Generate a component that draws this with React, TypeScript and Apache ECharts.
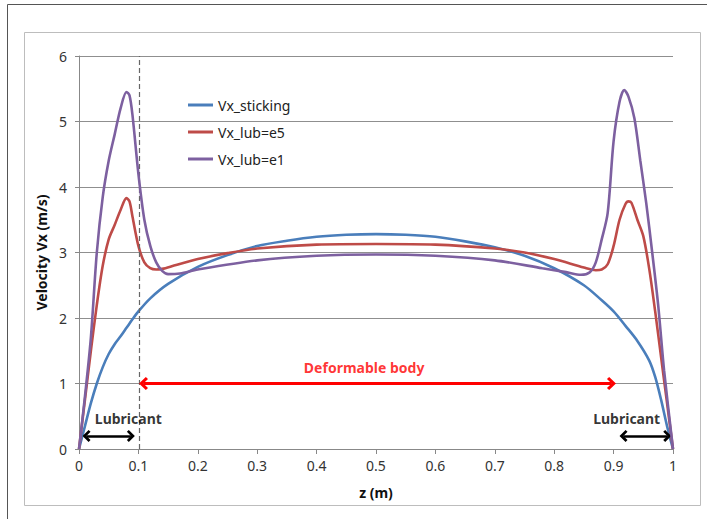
import React, { useEffect, useRef } from "react";
import * as echarts from "echarts";

const zSticking = [0, 0.01, 0.02, 0.03, 0.04, 0.05, 0.06, 0.07, 0.08, 0.09, 0.1, 0.12, 0.15, 0.2, 0.25, 0.3, 0.35, 0.4, 0.45, 0.5, 0.55, 0.6, 0.65, 0.7, 0.75, 0.8, 0.85, 0.88, 0.9, 0.92, 0.94, 0.96, 0.97, 0.98, 0.99, 1];
const vSticking = [0, 0.35, 0.7, 1.0, 1.25, 1.45, 1.6, 1.72, 1.85, 1.98, 2.1, 2.3, 2.52, 2.78, 2.96, 3.1, 3.18, 3.24, 3.27, 3.28, 3.27, 3.24, 3.17, 3.08, 2.95, 2.76, 2.5, 2.27, 2.1, 1.88, 1.65, 1.35, 1.1, 0.75, 0.35, 0];

const zLubE5 = [0, 0.01, 0.02, 0.03, 0.04, 0.05, 0.06, 0.07, 0.08, 0.085, 0.09, 0.1, 0.11, 0.12, 0.13, 0.14, 0.16, 0.2, 0.25, 0.3, 0.4, 0.5, 0.6, 0.7, 0.75, 0.8, 0.85, 0.87, 0.88, 0.89, 0.9, 0.91, 0.92, 0.925, 0.93, 0.94, 0.95, 0.96, 0.97, 0.98, 0.99, 1];
const vLubE5 = [0, 0.75, 1.5, 2.2, 2.8, 3.2, 3.42, 3.65, 3.83, 3.78, 3.55, 3.1, 2.85, 2.76, 2.74, 2.75, 2.8, 2.9, 2.99, 3.06, 3.12, 3.13, 3.12, 3.06, 3.0, 2.9, 2.77, 2.73, 2.74, 2.82, 3.1, 3.5, 3.74, 3.78, 3.76, 3.5, 3.25, 2.75, 2.1, 1.4, 0.7, 0];

const zLubE1 = [0, 0.01, 0.02, 0.03, 0.04, 0.05, 0.06, 0.07, 0.08, 0.085, 0.09, 0.1, 0.11, 0.12, 0.13, 0.14, 0.15, 0.17, 0.2, 0.3, 0.4, 0.5, 0.6, 0.7, 0.78, 0.82, 0.845, 0.86, 0.87, 0.88, 0.89, 0.9, 0.91, 0.918, 0.925, 0.935, 0.945, 0.955, 0.965, 0.975, 0.985, 1];
const vLubE1 = [0, 0.8, 1.7, 3.0, 3.85, 4.4, 4.8, 5.2, 5.45, 5.4, 5.1, 4.2, 3.5, 3.1, 2.85, 2.72, 2.67, 2.68, 2.74, 2.88, 2.95, 2.97, 2.95, 2.88, 2.76, 2.7, 2.66, 2.7, 2.85, 3.2, 3.6, 4.7, 5.3, 5.48, 5.38, 5.05, 4.4, 3.75, 3.0, 2.2, 1.2, 0];

const seriesNames = ["Vx_sticking", "Vx_lub=e5", "Vx_lub=e1"];
const seriesColors = ["#4A7EBB", "#BE4B48", "#7D60A0"];

// annotations (data coordinates; arrowhead centres)
const lubricantBoundaryZ = 0.102;
const bodyArrow = { from: [0.1086, 1], to: [0.8964, 1] };
const lubArrowLeft = { from: [0.0127, 0.2], to: [0.0873, 0.2] };
const lubArrowRight = { from: [0.9167, 0.2], to: [0.9903, 0.2] };
const textNotes = [
  { label: "Deformable body", z: 0.48, v: 1.25, color: "#FF0000" },
  { label: "Lubricant", z: 0.083, v: 0.47, color: "#000000" },
  { label: "Lubricant", z: 0.922, v: 0.47, color: "#000000" },
];

const zip = (xs: number[], ys: number[]) => xs.map((x, i) => [x, ys[i]]);

const chevron = "path://M5,0 L10,5 L8.4,6.6 L5,3.2 L1.6,6.6 L0,5 Z";

const FONT = "Noto Sans";

export default function App() {
  const ref = useRef<HTMLDivElement>(null);
  useEffect(() => {
    if (!ref.current) return;
    const chart = echarts.init(ref.current, undefined, { renderer: "svg" });
    const dataSets = [zip(zSticking, vSticking), zip(zLubE5, vLubE5), zip(zLubE1, vLubE1)];
    const lineSeries = seriesNames.map((name, i) => ({
      name,
      type: "line",
      data: dataSets[i],
      showSymbol: false,
      symbol: "none",
      smooth: 0.3,
      lineStyle: { color: seriesColors[i], width: 2.6 },
      itemStyle: { color: seriesColors[i] },
      z: 3 + i,
    }));
    const option: any = {
      animation: false,
      backgroundColor: "#ffffff",
      grid: { left: 79, right: 34, top: 56, bottom: 70, containLabel: false },
      legend: {
        orient: "vertical",
        left: 183,
        top: 93,
        data: seriesNames,
        icon: "rect",
        itemWidth: 25,
        itemHeight: 3,
        itemGap: 13,
        textStyle: { fontFamily: FONT, fontSize: 14, color: "#222" },
      },
      xAxis: {
        type: "value",
        min: 0,
        max: 1,
        interval: 0.1,
        name: "z (m)",
        nameLocation: "middle",
        nameGap: 36,
        nameTextStyle: { fontFamily: FONT, fontSize: 14, fontWeight: "bold", color: "#111" },
        axisLine: { show: true, lineStyle: { color: "#888", width: 1 } },
        axisTick: { show: true, length: 5, lineStyle: { color: "#888" } },
        axisLabel: { fontFamily: FONT, fontSize: 14, color: "#333", margin: 9 },
        splitLine: { show: false },
      },
      yAxis: {
        type: "value",
        min: 0,
        max: 6,
        interval: 1,
        name: "Velocity Vx (m/s)",
        nameLocation: "middle",
        nameGap: 28,
        nameRotate: 90,
        nameTextStyle: { fontFamily: FONT, fontSize: 14, fontWeight: "bold", color: "#111" },
        axisLine: { show: true, lineStyle: { color: "#888", width: 1 } },
        axisTick: { show: true, length: 4, lineStyle: { color: "#888" } },
        axisLabel: { fontFamily: FONT, fontSize: 14, color: "#333", margin: 12 },
        splitLine: { show: true, lineStyle: { color: "#8f8f8f", width: 1 } },
      },
      graphic: [
        { type: "rect", shape: { x: 7.5, y: 4.5, width: 740, height: 560 }, style: { fill: "none", stroke: "#555", lineWidth: 1 }, silent: true },
        { type: "rect", shape: { x: 24.5, y: 32.5, width: 676, height: 473 }, style: { fill: "none", stroke: "#bdbdbd", lineWidth: 1 }, silent: true },
      ],
      series: [
        ...lineSeries,
        {
          name: "annotations",
          type: "line",
          data: [],
          silent: true,
          z: 10,
          markLine: {
            silent: true,
            animation: false,
            label: { show: false },
            emphasis: { disabled: true },
            data: [
              [
                { coord: [lubricantBoundaryZ, 0], symbol: "none", lineStyle: { color: "#666", width: 1.2, type: [5, 3] } },
                { coord: [lubricantBoundaryZ, 6], symbol: "none" },
              ],
              [
                { coord: bodyArrow.from, symbol: chevron, symbolSize: [13, 9], lineStyle: { color: "#FF0000", width: 3, type: "solid" }, itemStyle: { color: "#FF0000" } },
                { coord: bodyArrow.to, symbol: chevron, symbolSize: [13, 9] },
              ],
              [
                { coord: lubArrowLeft.from, symbol: chevron, symbolSize: [12, 8], lineStyle: { color: "#000", width: 2.5, type: "solid" }, itemStyle: { color: "#000" } },
                { coord: lubArrowLeft.to, symbol: chevron, symbolSize: [12, 8] },
              ],
              [
                { coord: lubArrowRight.from, symbol: chevron, symbolSize: [12, 8], lineStyle: { color: "#000", width: 2.5, type: "solid" }, itemStyle: { color: "#000" } },
                { coord: lubArrowRight.to, symbol: chevron, symbolSize: [12, 8] },
              ],
            ],
          },
        },
        {
          name: "notes",
          type: "scatter",
          silent: true,
          symbolSize: 0,
          z: 11,
          data: textNotes.map((n) => ({
            value: [n.z, n.v],
            label: {
              show: true,
              position: "inside",
              formatter: n.label,
              fontFamily: FONT,
              fontWeight: "bold",
              fontSize: 14,
              color: n.color,
            },
          })),
        },
      ],
    };
    chart.setOption(option);
    return () => chart.dispose();
  }, []);
  return (
    <div
      ref={ref}
      style={{ position: "absolute", left: 0, top: 0, width: 707, height: 519 }}
    />
  );
}
